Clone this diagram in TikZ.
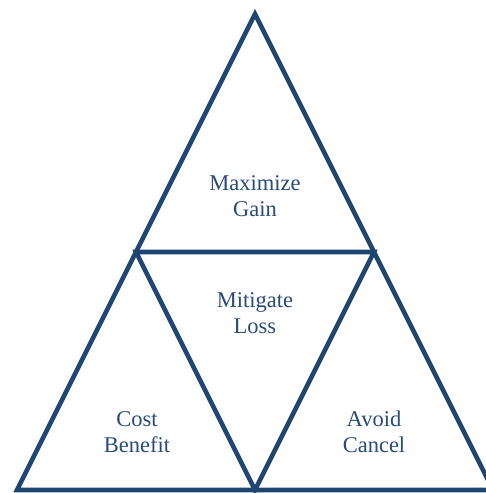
\documentclass[tikz,border=0pt]{standalone}
\usepackage{fontspec}
\setmainfont{Liberation Serif}
\usetikzlibrary{backgrounds}

\definecolor{edgeblue}{RGB}{31,69,115}
\definecolor{textblue}{RGB}{40,74,124}

\tikzset{
  edge/.style={edgeblue, line width=4.6pt, line join=miter},
  label/.style={textblue, align=center, font=\fontsize{22.5}{26}\selectfont}
}

\begin{document}
\begin{tikzpicture}[x=1pt, y=-1pt]
            \useasboundingbox (0,0) rectangle (485,493);

            \coordinate (top) at (255,14);
            \coordinate (left) at (17,490);
            \coordinate (right) at (493,490);
            \coordinate (midl) at (136,252);
            \coordinate (midr) at (374,252);
            \coordinate (midb) at (255,490);

            \draw[edge] (left) -- (top) -- (right) -- cycle;
            \draw[edge] (midl) -- (midr) -- (midb) -- cycle;

            \node[label] (gain) at (255,196) {Maximize\\Gain};
            \node[label] (loss) at (255,313) {Mitigate\\Loss};
            \node[label] (cost) at (137,432) {Cost\\Benefit};
            \node[label] (avoid) at (374,432) {Avoid\\Cancel};
        \end{tikzpicture}
\end{document}
